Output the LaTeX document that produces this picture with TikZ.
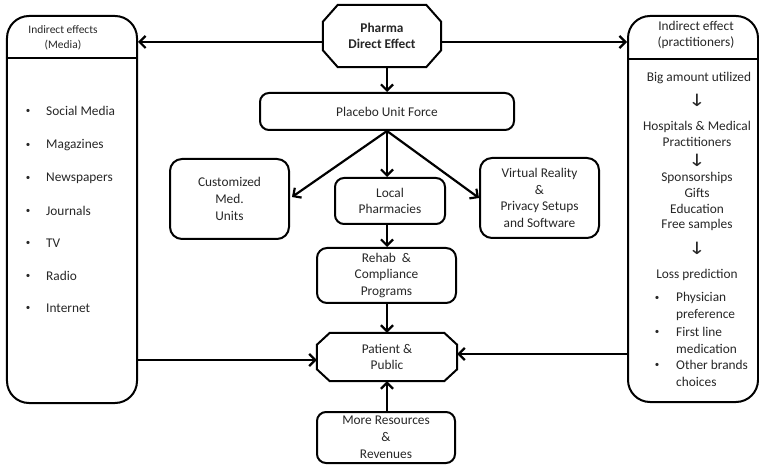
\documentclass[tikz,border=0pt]{standalone}
\usepackage{fontspec}
\setmainfont{Carlito}
\newfontfamily\symfont{DejaVu Sans}
\usetikzlibrary{arrows.meta,calc}
\definecolor{txt}{HTML}{262626}
\newcommand{\wdn}{\scalebox{1.25}[1.0]{↓}}
\begin{document}
\begin{tikzpicture}[x=1bp,y=-1bp,
  every node/.style={text=txt,font=\fontsize{13.4}{16.8}\selectfont,align=center,inner sep=0pt},
  rbox/.style={draw=black,line width=2bp,rounded corners=#1},
  rbox/.default=9bp,
  arr/.style={line width=2.2bp,-{Straight Barb[length=6bp,width=12bp,line width=2.2bp]}},
  plain/.style={line width=2.2bp},
  octline/.style={line width=2bp,line join=miter},
  bul/.style={font=\fontsize{9}{10}\selectfont},
  dn/.style={font=\symfont\fontsize{17}{18}\selectfont}]
\useasboundingbox (0,0) rectangle (759,466);
% big side boxes
\node[rbox=22bp,minimum width=130bp,minimum height=387bp] (leftbox) at (72,209.5) {};
\node[rbox=22bp,minimum width=130bp,minimum height=386bp] (rightbox) at (693,209) {};
\draw[plain] (leftbox.west |- 0,58) coordinate (ld1) -- (leftbox.east |- 0,58) coordinate (ld2);
\draw[plain] (rightbox.west |- 0,59) coordinate (rd1) -- (rightbox.east |- 0,59) coordinate (rd2);
% left header and list
\node[font=\fontsize{11.5}{14.5}\selectfont] (lh) at (63,38) {Indirect effects\\(Media)};
\foreach \t/\y [count=\i] in {Social Media/111,Magazines/145,Newspapers/178,Journals/211,TV/243,Radio/276,Internet/308}{
  \node[bul] (lb\i) at (28,\y) {•};
  \node[anchor=west] (li\i) at (46,\y) {\t};
}
% right header and contents
\node (rh) at (696,35) {Indirect effect\\(practitioners)};
\node (r1) at (699,78) {Big amount utilized};
\node[dn] (ra1) at (697,100) {\wdn};
\node (r2) at (697,134) {Hospitals \& Medical\\Practitioners};
\node[dn] (ra2) at (697,160) {\wdn};
\node[font=\fontsize{13.4}{16}\selectfont] (r3) at (697,201.5) {Sponsorships\\Gifts\\Education\\Free samples};
\node[dn] (ra3) at (697,248) {\wdn};
\node (r4) at (697,275) {Loss prediction};
\foreach \t/\y [count=\i] in {Physician/298,preference/315,First line/332,medication/349,Other brands/365,choices/382}{
  \node[anchor=west] (rl\i) at (676,\y) {\t};
}
\node[bul] (rb1) at (657,298) {•};
\node[bul] (rb2) at (657,332) {•};
\node[bul] (rb3) at (657,365) {•};
% central nodes
\node[minimum width=118bp,minimum height=62bp,font=\bfseries\fontsize{13.4}{16.8}\selectfont] (pharma) at (382,36) {Pharma\\Direct Effect};
\draw[octline] ($(pharma.north west)+(15,0)$) -- ($(pharma.north east)+(-15,0)$) -- ($(pharma.north east)+(0,17)$) -- ($(pharma.south east)+(0,-17)$) -- ($(pharma.south east)+(-15,0)$) -- ($(pharma.south west)+(15,0)$) -- ($(pharma.south west)+(0,-17)$) -- ($(pharma.north west)+(0,17)$) -- cycle;
\node[rbox,minimum width=254bp,minimum height=37bp] (placebo) at (387,111.5) {Placebo Unit Force};
\node[rbox=12bp,minimum width=119bp,minimum height=80bp] (custom) at (229.5,199) {Customized\\Med.\\Units};
\node[rbox,minimum width=110bp,minimum height=46bp] (local) at (390,201) {Local\\Pharmacies};
\node[rbox=12bp,minimum width=119bp,minimum height=80bp] (virtual) at (539.5,198) {Virtual Reality\\\&\\Privacy Setups\\and Software};
\node[rbox=10bp,minimum width=139bp,minimum height=55bp] (rehab) at (386.5,275.5) {Rehab~ \&\\Compliance\\Programs};
\node[minimum width=140bp,minimum height=48bp] (patient) at (387,357) {Patient \&\\Public};
\draw[octline] ($(patient.north west)+(13,0)$) -- ($(patient.north east)+(-13,0)$) -- ($(patient.north east)+(0,12)$) -- ($(patient.south east)+(0,-12)$) -- ($(patient.south east)+(-13,0)$) -- ($(patient.south west)+(13,0)$) -- ($(patient.south west)+(0,-12)$) -- ($(patient.north west)+(0,12)$) -- cycle;
\node[rbox,minimum width=138bp,minimum height=51bp] (more) at (386,437.5) {More Resources\\\&\\Revenues};
% connectors
\coordinate (pw) at ($(pharma.west)+(0,6)$);
\coordinate (pe) at ($(pharma.east)+(0,6)$);
\draw[arr] (pw) -- (pw -| leftbox.east);
\draw[arr] (pe) -- (pe -| rightbox.west);
\coordinate (ps) at (pharma.south -| placebo.north);
\draw[arr] (ps) -- (placebo.north);
\coordinate (pls) at (placebo.south);
\draw[arr] (pls) -- ($(custom.east)+(2,-2)$);
\draw[arr] (pls) -- (virtual.west);
\draw[arr] (pls) -- (pls |- local.north);
\draw[arr] (local.south -| pls) -- (rehab.north -| pls);
\draw[arr] (rehab.south -| pls) -- (patient.north -| pls);
\draw[arr] (more.north -| pls) -- (patient.south -| pls);
\coordinate (lp) at ($(patient.west)+(0,3)$);
\draw[arr] (lp -| leftbox.east) -- (lp);
\coordinate (rp) at ($(patient.east)+(0,-3)$);
\draw[arr] (rp -| rightbox.west) -- (rp);
\end{tikzpicture}
\end{document}
